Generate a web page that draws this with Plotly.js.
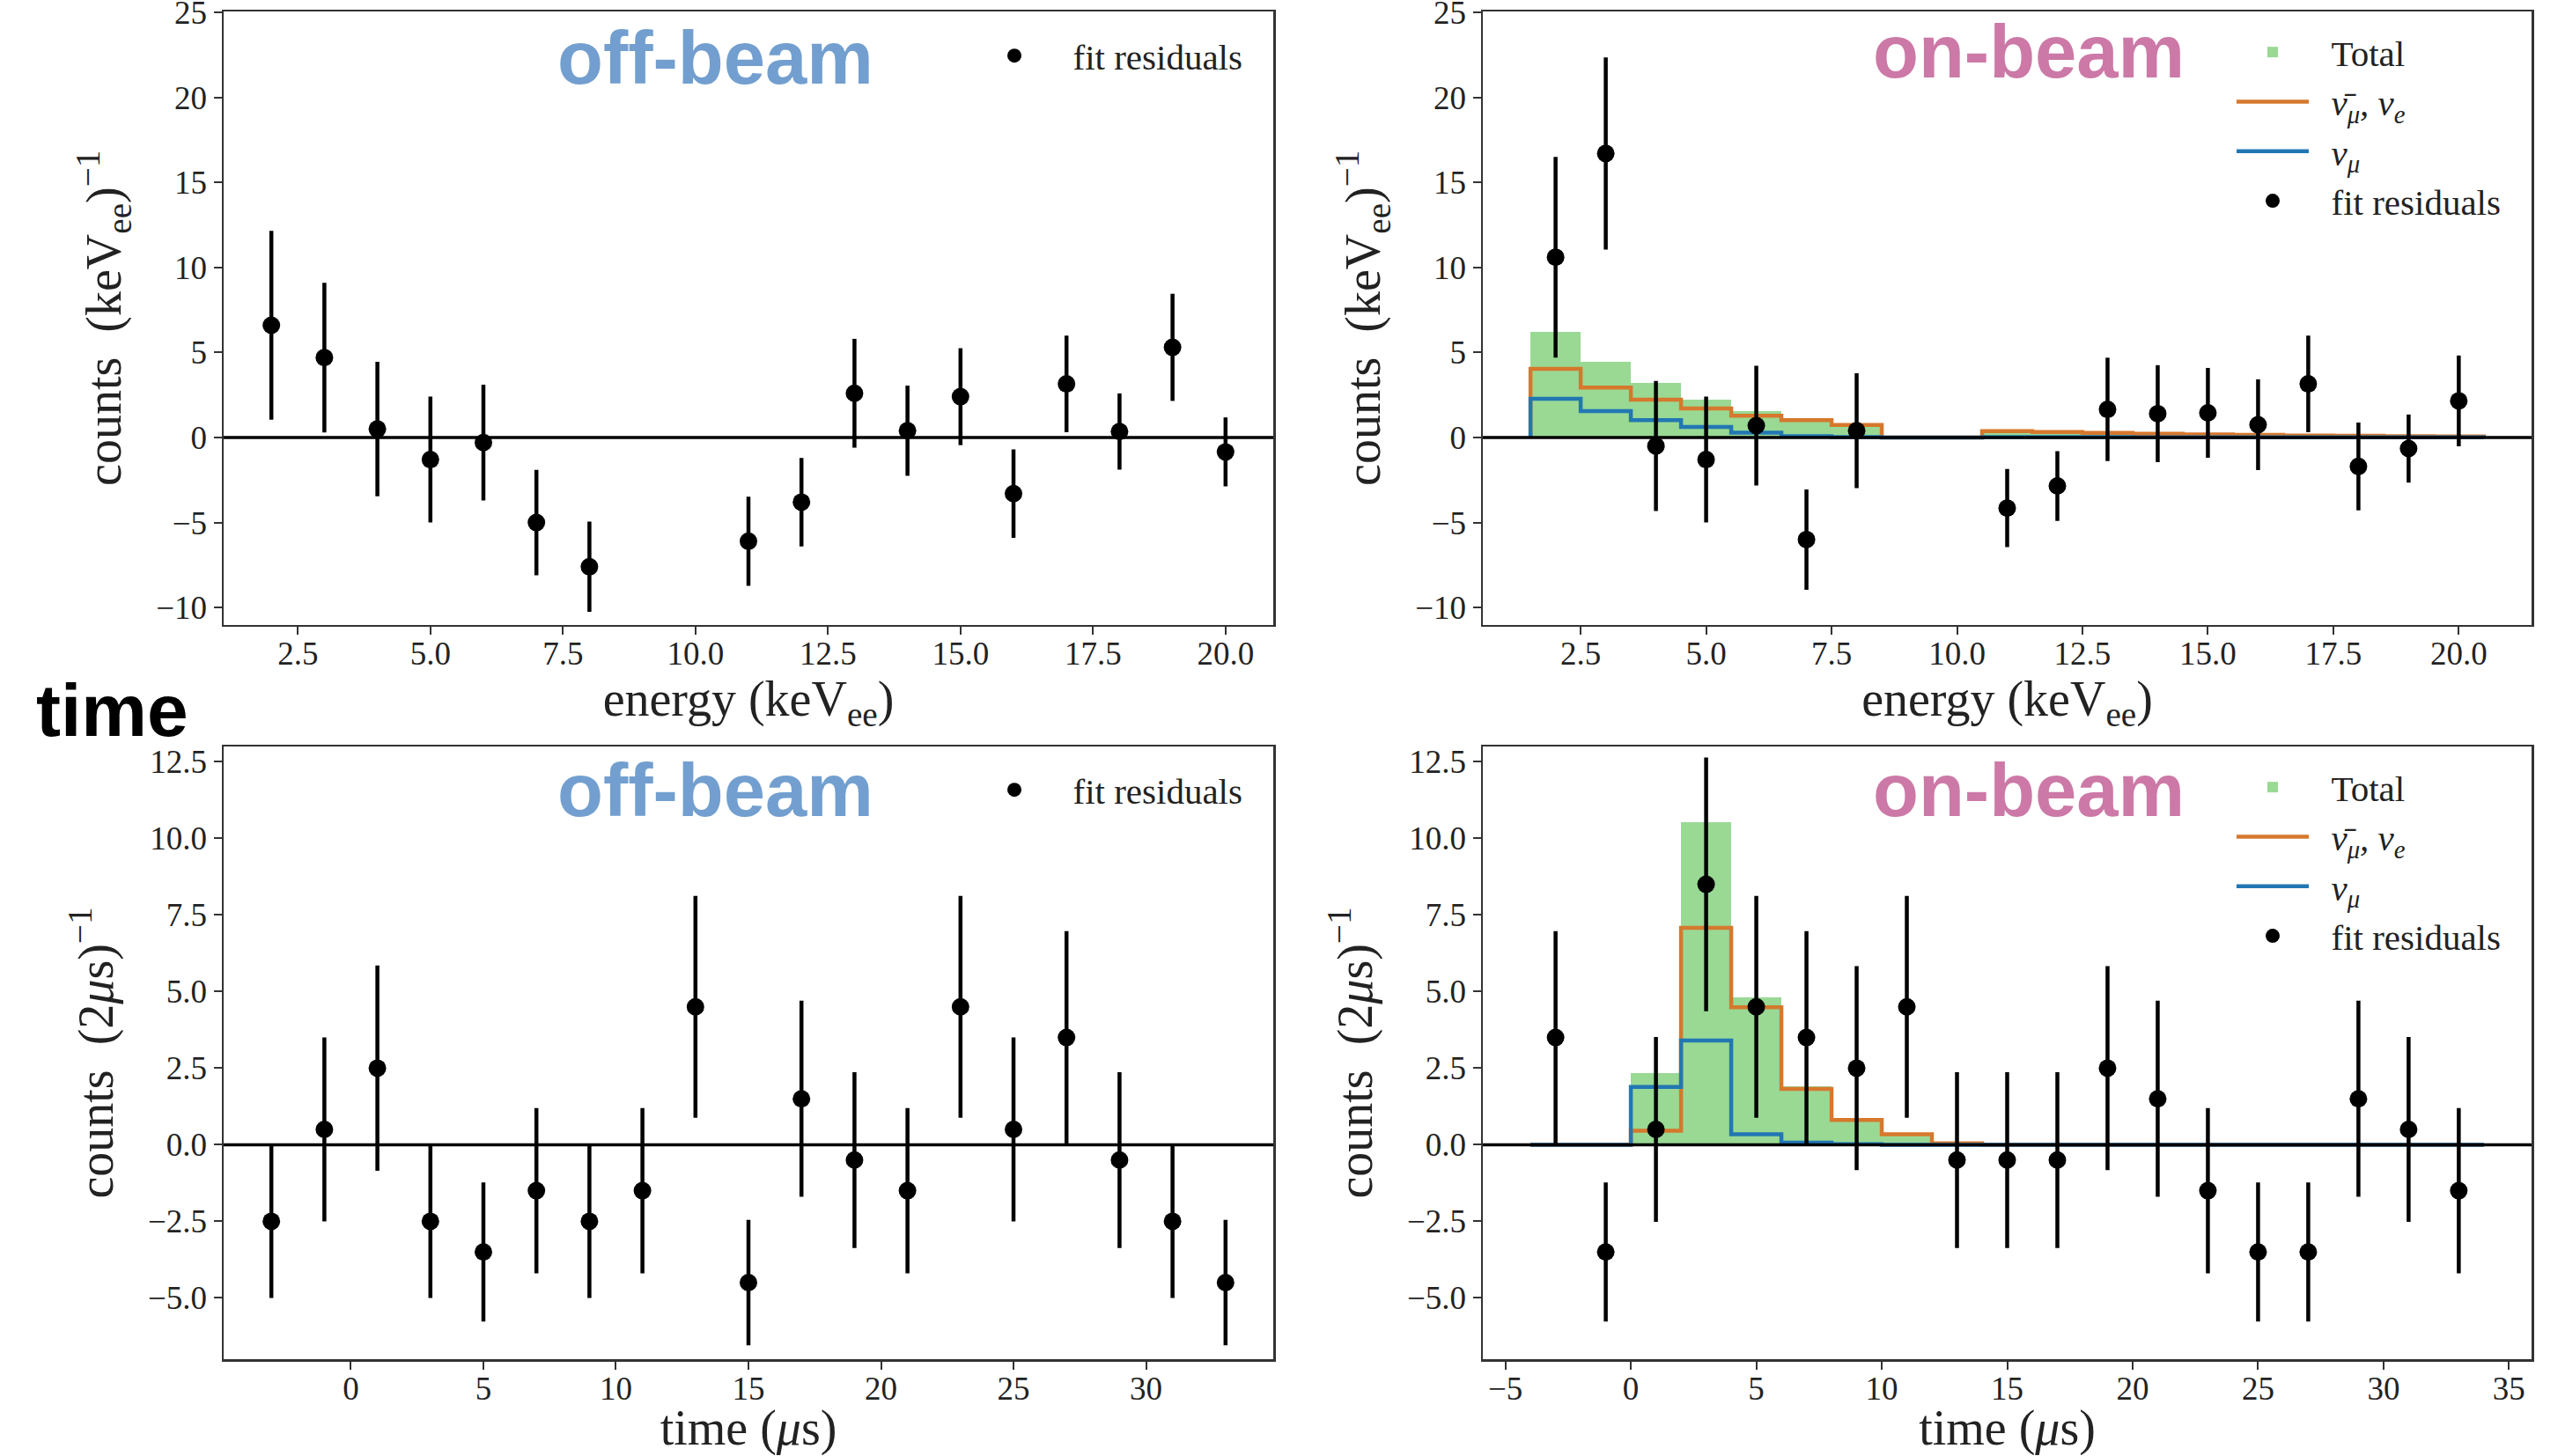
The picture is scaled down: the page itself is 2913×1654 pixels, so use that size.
<!DOCTYPE html>
<html>
<head>
<meta charset="utf-8">
<script src="https://cdn.plot.ly/plotly-3.0.1.min.js"></script>
<style>
  html, body { margin: 0; padding: 0; background: #ffffff; }
  #chart { width: 2913px; height: 1654px; }
</style>
</head>
<body>
<div id="chart"></div>
<script>
// ---------------- data ----------------
// energy residuals (keVee bins)
const energyX = [2, 3, 4, 5, 6, 7, 8, 11, 12, 13, 14, 15, 16, 17, 18, 19, 20];
const energyOffY = [6.6, 4.7, 0.5, -1.3, -0.3, -5.0, -7.6, -6.1, -3.8, 2.6, 0.4, 2.4, -3.3, 3.15, 0.35, 5.3, -0.85];
const energyOffErr = [5.55, 4.4, 3.95, 3.7, 3.4, 3.1, 2.65, 2.62, 2.6, 3.2, 2.65, 2.85, 2.6, 2.84, 2.24, 3.15, 2.03];
const energyOnY = [10.6, 16.7, -0.5, -1.3, 0.7, -6.0, 0.4, -4.15, -2.85, 1.65, 1.4, 1.45, 0.75, 3.15, -1.7, -0.65, 2.15];
const energyOnErr = [5.9, 5.65, 3.82, 3.7, 3.52, 2.95, 3.38, 2.3, 2.05, 3.04, 2.85, 2.64, 2.67, 2.84, 2.58, 2.0, 2.67];

// energy predicted histograms (bin edges 1.5 ... 20.5)
const energyEdges = [1.5, 2.5, 3.5, 4.5, 5.5, 6.5, 7.5, 8.5, 9.5, 10.5, 11.5, 12.5, 13.5, 14.5, 15.5, 16.5, 17.5, 18.5, 19.5, 20.5];
const energyTotal = [6.22, 4.46, 3.2, 2.25, 1.53, 1.1, 0.77, 0, 0, 0.40, 0.34, 0.29, 0.24, 0.19, 0.16, 0.13, 0.11, 0.09, 0.07];
const energyNuBarE = [4.03, 2.93, 2.22, 1.71, 1.28, 1.02, 0.74, 0, 0, 0.37, 0.32, 0.27, 0.22, 0.18, 0.15, 0.12, 0.10, 0.08, 0.06];
const energyNuMu = [2.28, 1.55, 1.02, 0.62, 0.28, 0.08, 0.02, 0, 0, 0.03, 0.02, 0.02, 0.01, 0.01, 0.01, 0.01, 0.01, 0.01, 0.01];

// time residuals (2 us bins)
const timeX = [-3, -1, 1, 3, 5, 7, 9, 11, 13, 15, 17, 19, 21, 23, 25, 27, 29, 31, 33];
const timeOffY = [-2.5, 0.5, 2.5, -2.5, -3.5, -1.5, -2.5, -1.5, 4.5, -4.5, 1.5, -0.5, -1.5, 4.5, 0.5, 3.5, -0.5, -2.5, -4.5];
const timeOffErr = [2.5, 3.0, 3.35, 2.5, 2.27, 2.7, 2.5, 2.7, 3.62, 2.05, 3.2, 2.87, 2.7, 3.62, 3.0, 3.47, 2.87, 2.5, 2.05];
const timeOnY = [3.5, -3.5, 0.5, 8.5, 4.5, 3.5, 2.5, 4.5, -0.5, -0.5, -0.5, 2.5, 1.5, -1.5, -3.5, -3.5, 1.5, 0.5, -1.5];
const timeOnErr = [3.47, 2.27, 3.02, 4.14, 3.62, 3.47, 3.33, 3.62, 2.87, 2.87, 2.87, 3.33, 3.2, 2.7, 2.27, 2.27, 3.2, 3.02, 2.7];

// time predicted histograms (bin edges -4 ... 34)
const timeEdges = [-4, -2, 0, 2, 4, 6, 8, 10, 12, 14, 16, 18, 20, 22, 24, 26, 28, 30, 32, 34];
const timeTotal = [0, 0, 2.35, 10.52, 4.82, 1.9, 0.84, 0.36, 0.06, 0, 0, 0, 0, 0, 0, 0, 0, 0, 0];
const timeNuBarE = [0, 0, 0.46, 7.08, 4.49, 1.82, 0.81, 0.34, 0.05, 0, 0, 0, 0, 0, 0, 0, 0, 0, 0];
const timeNuMu = [0, 0, 1.89, 3.4, 0.34, 0.07, 0.02, 0, 0, 0, 0, 0, 0, 0, 0, 0, 0, 0, 0];

// ---------------- styles ----------------
const SERIF = 'Liberation Serif, Times New Roman, serif';
const SANS = 'Liberation Sans, Arial, sans-serif';
const GREEN = '#99d994';
const ORANGE = '#d6782d';
const BLUE = '#2277b3';
const OFFCOL = '#729fcf';
const ONCOL = '#cc79a7';
const PADL = '\u00a0\u00a0';
const NAME_TOTAL = PADL + 'Total';
const NAME_NUBAR = PADL + '<i>ν̄<sub>μ</sub>, ν<sub>e</sub></i>';
const NAME_NUMU = PADL + '<i>ν<sub>μ</sub></i>';
const NAME_RES = PADL + 'fit residuals';

function centers(edges) {
  const c = [];
  for (let i = 0; i < edges.length - 1; i++) c.push((edges[i] + edges[i + 1]) / 2);
  return c;
}
function widths(edges) {
  const w = [];
  for (let i = 0; i < edges.length - 1; i++) w.push(edges[i + 1] - edges[i]);
  return w;
}
// step outline (like matplotlib histtype='step')
function stepXY(edges, vals) {
  const x = [edges[0]], y = [0];
  for (let i = 0; i < vals.length; i++) { x.push(edges[i]); y.push(vals[i]); }
  x.push(edges[edges.length - 1]); y.push(0);
  return {x, y};
}

function residualTrace(x, y, err, xa, ya, legend) {
  return {
    type: 'scatter', mode: 'markers', x, y, xaxis: xa, yaxis: ya,
    name: NAME_RES, legend, showlegend: true,
    marker: {color: '#000000', size: 20},
    error_y: {type: 'data', array: err, visible: true, color: '#000000', thickness: 4.5, width: 0},
    hoverinfo: 'skip'
  };
}
function histTraces(edges, total, nubar, numu, xa, ya, legend) {
  const s1 = stepXY(edges, nubar), s2 = stepXY(edges, numu);
  return [
    {type: 'bar', x: centers(edges), y: total, width: widths(edges), xaxis: xa, yaxis: ya,
     name: NAME_TOTAL, legend, marker: {color: GREEN, line: {width: 0}}, hoverinfo: 'skip'},
    {type: 'scatter', mode: 'lines', x: s1.x, y: s1.y, xaxis: xa, yaxis: ya, name: NAME_NUBAR, legend,
     line: {color: ORANGE, width: 4.5, shape: 'hv'}, hoverinfo: 'skip'},
    {type: 'scatter', mode: 'lines', x: s2.x, y: s2.y, xaxis: xa, yaxis: ya, name: NAME_NUMU, legend,
     line: {color: BLUE, width: 4.5, shape: 'hv'}, hoverinfo: 'skip'}
  ];
}

const data = [
  residualTrace(energyX, energyOffY, energyOffErr, 'x', 'y', 'legend'),
  ...histTraces(energyEdges, energyTotal, energyNuBarE, energyNuMu, 'x2', 'y2', 'legend2'),
  residualTrace(energyX, energyOnY, energyOnErr, 'x2', 'y2', 'legend2'),
  residualTrace(timeX, timeOffY, timeOffErr, 'x3', 'y3', 'legend3'),
  ...histTraces(timeEdges, timeTotal, timeNuBarE, timeNuMu, 'x4', 'y4', 'legend4'),
  residualTrace(timeX, timeOnY, timeOnErr, 'x4', 'y4', 'legend4')
];

const W = 2913, H = 1654, MB = 30;
const px = v => v / W;
const py = v => 1 - v / (H - MB);

const tickFont = {family: SERIF, size: 37, color: '#222222'};
const titleFont = {family: SERIF, size: 56, color: '#222222'};
function ax(extra) {
  return Object.assign({
    showgrid: false, zeroline: false, showline: true, mirror: true,
    linecolor: '#333333', linewidth: 2.5,
    ticks: 'outside', ticklen: 9, tickwidth: 2, tickcolor: '#333333',
    tickfont: tickFont, automargin: false, fixedrange: true, ticklabeloverflow: 'allow'
  }, extra);
}
const xTopDom = [px(254), px(1446)], xRightDom = [px(1684), px(2875)];
const yTopDom = [py(709.5), py(13)], yBotDom = [py(1544), py(848)];

const legendBase = {
  bgcolor: 'rgba(0,0,0,0)', borderwidth: 0, xanchor: 'left', yanchor: 'top',
  font: {family: SERIF, size: 41, color: '#222222'}, itemwidth: 82, tracegroupgap: 0
};

const layout = {
  width: W, height: H,
  margin: {l: 0, r: 0, t: 0, b: MB, pad: 0},
  paper_bgcolor: '#ffffff', plot_bgcolor: '#ffffff',
  showlegend: true, hovermode: false, bargap: 0, barmode: 'overlay',
  xaxis: ax({domain: xTopDom, anchor: 'y', range: [1.1, 20.9], dtick: 2.5, tick0: 0, tickformat: '.1f',
    ticklabelstandoff: -10,
    title: {text: 'energy (keV<sub>ee</sub>)', font: titleFont, standoff: 12}}),
  yaxis: ax({domain: yTopDom, anchor: 'x', range: [-11, 25.05], dtick: 5, tick0: 0,
    title: {text: 'counts  (keV<sub>ee</sub>)<sup>−1</sup>', font: titleFont, standoff: 22}}),
  xaxis2: ax({domain: xRightDom, anchor: 'y2', range: [0.55, 21.45], dtick: 2.5, tick0: 0, tickformat: '.1f',
    ticklabelstandoff: -10,
    title: {text: 'energy (keV<sub>ee</sub>)', font: titleFont, standoff: 12}}),
  yaxis2: ax({domain: yTopDom, anchor: 'x2', range: [-11, 25.05], dtick: 5, tick0: 0,
    title: {text: 'counts  (keV<sub>ee</sub>)<sup>−1</sup>', font: titleFont, standoff: 22}}),
  xaxis3: ax({domain: xTopDom, anchor: 'y3', range: [-4.8, 34.8], dtick: 5, tick0: 0,
    ticklabelstandoff: -10,
    title: {text: 'time (<i>μ</i>s)', font: titleFont, standoff: 22}}),
  yaxis3: ax({domain: yBotDom, anchor: 'x3', range: [-7, 13], dtick: 2.5, tick0: 0, tickformat: '.1f',
    title: {text: 'counts  (2<i>μ</i>s)<sup>−1</sup>', font: titleFont, standoff: 22}}),
  xaxis4: ax({domain: xRightDom, anchor: 'y4', range: [-5.9, 35.9], dtick: 5, tick0: 0,
    ticklabelstandoff: -10,
    title: {text: 'time (<i>μ</i>s)', font: titleFont, standoff: 22}}),
  yaxis4: ax({domain: yBotDom, anchor: 'x4', range: [-7, 13], dtick: 2.5, tick0: 0, tickformat: '.1f',
    title: {text: 'counts  (2<i>μ</i>s)<sup>−1</sup>', font: titleFont, standoff: 22}}),
  legend: Object.assign({}, legendBase, {x: px(1106), y: py(30)}),
  legend2: Object.assign({}, legendBase, {x: px(2535), y: py(26)}),
  legend3: Object.assign({}, legendBase, {x: px(1106), y: py(864)}),
  legend4: Object.assign({}, legendBase, {x: px(2535), y: py(861)}),
  shapes: [['x', 'y'], ['x2', 'y2'], ['x3', 'y3'], ['x4', 'y4']].map(([xa, ya]) => ({
    type: 'line', xref: xa + ' domain', x0: 0, x1: 1, yref: ya, y0: 0, y1: 0,
    line: {color: '#000000', width: 3.5}, layer: 'above'
  })),
  annotations: [
    {text: 'off-beam', x: px(812), y: py(66), xref: 'paper', yref: 'paper', xanchor: 'center', yanchor: 'middle',
     showarrow: false, font: {family: SANS, size: 85, weight: 700, color: OFFCOL}},
    {text: 'on-beam', x: px(2304), y: py(59), xref: 'paper', yref: 'paper', xanchor: 'center', yanchor: 'middle',
     showarrow: false, font: {family: SANS, size: 85, weight: 700, color: ONCOL}},
    {text: 'off-beam', x: px(812), y: py(897), xref: 'paper', yref: 'paper', xanchor: 'center', yanchor: 'middle',
     showarrow: false, font: {family: SANS, size: 85, weight: 700, color: OFFCOL}},
    {text: 'on-beam', x: px(2304), y: py(897), xref: 'paper', yref: 'paper', xanchor: 'center', yanchor: 'middle',
     showarrow: false, font: {family: SANS, size: 85, weight: 700, color: ONCOL}},
    {text: 'time', x: px(127), y: py(807), xref: 'paper', yref: 'paper', xanchor: 'center', yanchor: 'middle',
     showarrow: false, font: {family: SANS, size: 84, weight: 700, color: '#000000'}}
  ]
};

Plotly.newPlot('chart', data, layout, {displayModeBar: false, staticPlot: true});
</script>
</body>
</html>
